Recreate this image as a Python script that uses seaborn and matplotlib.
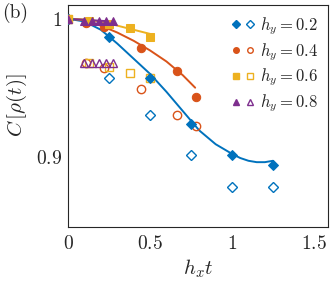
import numpy as np
import matplotlib
matplotlib.use('Agg')
import matplotlib.pyplot as plt
import seaborn as sns
from matplotlib.lines import Line2D
from matplotlib.legend_handler import HandlerTuple
from matplotlib.ticker import MultipleLocator

# data
hy_labels = ['0.2', '0.4', '0.6', '0.8']
colors = ['#0072BD', '#D95319', '#EDB120', '#7E2F8E']
markers = ['D', 'o', 's', '^']

t_02 = [0, 0.25, 0.5, 0.75, 1.0, 1.25]
full_02 = [1.0, 0.987, 0.957, 0.924, 0.901, 0.894]
sub_02 = [1.0, 0.957, 0.930, 0.901, 0.878, 0.878]

t_04 = [0, 0.111, 0.222, 0.444, 0.667, 0.778]
full_04 = [1.0, 0.997, 0.994, 0.979, 0.962, 0.943]
sub_04 = [1.0, 0.968, 0.964, 0.949, 0.930, 0.922]

t_06 = [0, 0.125, 0.25, 0.375, 0.5]
full_06 = [1.0, 0.998, 0.996, 0.993, 0.987]
sub_06 = [1.0, 0.968, 0.965, 0.961, 0.957]

t_08 = [0, 0.1, 0.143, 0.186, 0.229, 0.271]
full_08 = [1.0, 0.998, 0.998, 0.998, 0.998, 0.998]
sub_08 = [1.0, 0.968, 0.968, 0.968, 0.968, 0.968]

# fitted curves
fit_x_02 = [0, 0.1, 0.2, 0.3, 0.4, 0.5, 0.6, 0.7, 0.8, 0.9, 1.0, 1.05, 1.1, 1.15, 1.2, 1.25]
fit_y_02 = [1.0, 0.998, 0.992, 0.982, 0.971, 0.960, 0.947, 0.933, 0.919, 0.909, 0.902,
            0.899, 0.897, 0.896, 0.896, 0.897]
fit_x_04 = [0, 0.1, 0.2, 0.3, 0.4, 0.5, 0.6, 0.7, 0.775]
fit_y_04 = [1.0, 0.999, 0.995, 0.990, 0.984, 0.977, 0.969, 0.959, 0.950]
fit_x_06 = [0, 0.1, 0.2, 0.3, 0.4, 0.5]
fit_y_06 = [1.0, 0.9995, 0.998, 0.995, 0.992, 0.989]
fit_x_08 = [0, 0.271]
fit_y_08 = [1.0, 0.998]

series = [
    (t_02, full_02, sub_02, fit_x_02, fit_y_02),
    (t_04, full_04, sub_04, fit_x_04, fit_y_04),
    (t_06, full_06, sub_06, fit_x_06, fit_y_06),
    (t_08, full_08, sub_08, fit_x_08, fit_y_08),
]

sns.set_style('white')
plt.rcParams['mathtext.fontset'] = 'cm'
plt.rcParams['font.family'] = ['serif']
plt.rcParams['font.serif'] = ['cmr10', 'DejaVu Serif']

fig = plt.figure(figsize=(3.32, 2.91), dpi=100)
ax = fig.add_axes([0.205, 0.22, 0.783, 0.763])

handles = []
for (t, full, sub, fx, fy), c, m, lab in zip(series, colors, markers, hy_labels):
    ms = 5 if m == 'D' else 6
    sns.lineplot(x=fx, y=fy, ax=ax, color=c, linewidth=1.4, sort=False, zorder=2)
    sns.lineplot(x=t, y=sub, ax=ax, color=c, linestyle='', marker=m, markersize=ms,
                 markerfacecolor='none', markeredgecolor=c, markeredgewidth=1.0, zorder=3)
    sns.lineplot(x=t, y=full, ax=ax, color=c, linestyle='', marker=m, markersize=ms,
                 markerfacecolor=c, markeredgecolor=c, zorder=4)
    h1 = Line2D([], [], linestyle='', marker=m, markersize=4, color=c)
    h2 = Line2D([], [], linestyle='', marker=m, markersize=4, markerfacecolor='none',
                markeredgecolor=c, markeredgewidth=1.0)
    handles.append((h1, h2))

ax.legend(handles, ['$h_y = %s$' % l for l in hy_labels],
          handler_map={tuple: HandlerTuple(ndivide=None, pad=0.3)},
          loc='upper right', frameon=False, fontsize=12, handlelength=1.4,
          handletextpad=0.3, labelspacing=0.25, borderaxespad=0.2,
          bbox_to_anchor=(1.0, 1.0))

ax.set_xlim(0, 1.585)
ax.set_ylim(0.849, 1.010)
ax.set_xticks([0, 0.5, 1, 1.5])
ax.set_xticklabels(['$0$', '$0.5$', '$1$', '$1.5$'])
ax.set_yticks([0.9, 1.0])
ax.set_yticklabels(['$0.9$', '$1$'])
ax.xaxis.set_minor_locator(MultipleLocator(0.1))
ax.yaxis.set_minor_locator(MultipleLocator(0.02))
ax.tick_params(which='both', direction='in', top=False, right=False,
               labelsize=14, color='#262626')
ax.tick_params(axis='x', pad=6)
ax.tick_params(axis='y', pad=4)
ax.tick_params(which='major', length=4, width=0.6)
ax.tick_params(which='minor', length=2.5, width=0.6)
for s in ax.spines.values():
    s.set_color('#262626')
    s.set_linewidth(0.8)

ax.set_xlabel('$h_x t$', fontsize=15, labelpad=3)
ax.set_ylabel(r'$C\,[\rho(t)]$', fontsize=15)
ax.yaxis.set_label_coords(-0.15, 0.55)
fig.text(0.006, 0.99, '(b)', fontsize=14, va='top', ha='left')

fig.savefig('out.png', dpi=100)
